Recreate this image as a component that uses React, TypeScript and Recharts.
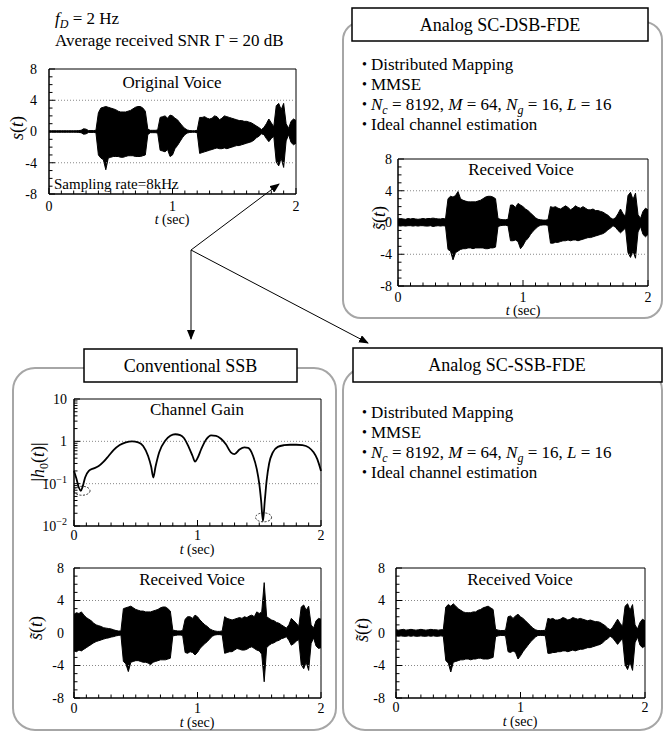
import React from 'react'
import { ComposedChart, Area, Line, XAxis, YAxis, ReferenceLine, ReferenceArea, ReferenceDot } from 'recharts'

const FONT = '"Liberation Serif", "Times New Roman", serif'

// sample times of the voice envelopes (sec)
const T = [
  0, 0.02, 0.04, 0.06, 0.08, 0.1, 0.12, 0.14, 0.16, 0.18,
  0.2, 0.22, 0.24, 0.26, 0.28, 0.3, 0.32, 0.34, 0.36, 0.38,
  0.4, 0.42, 0.44, 0.46, 0.48, 0.5, 0.52, 0.54, 0.56, 0.58,
  0.6, 0.62, 0.64, 0.66, 0.68, 0.7, 0.72, 0.74, 0.76, 0.78,
  0.8, 0.82, 0.84, 0.86, 0.88, 0.9, 0.92, 0.94, 0.96, 0.98,
  1, 1.02, 1.04, 1.06, 1.08, 1.1, 1.12, 1.14, 1.16, 1.18,
  1.2, 1.22, 1.24, 1.26, 1.28, 1.3, 1.32, 1.34, 1.36, 1.38,
  1.4, 1.42, 1.44, 1.46, 1.48, 1.5, 1.52, 1.54, 1.56, 1.58,
  1.6, 1.62, 1.64, 1.66, 1.68, 1.7, 1.72, 1.74, 1.76, 1.78,
  1.8, 1.82, 1.84, 1.86, 1.88, 1.9, 1.92, 1.94, 1.96, 1.98,
  2,
]

// original voice s(t): upper / lower envelope
const ORIG_HI = [
  0.1, 0.1, 0.1, 0.1, 0.1, 0.1, 0.1, 0.1, 0.1, 0.1,
  0.1, 0.1, 0.12, 0.15, 0.35, 0.3, 0.12, 0.12, 0.12, 0.15,
  2.4, 3.0, 3.1, 3.2, 3.1, 3.0, 2.9, 2.8, 2.6, 2.5,
  2.5, 2.5, 2.6, 2.7, 2.9, 3.1, 3.2, 3.2, 3.0, 2.6,
  0.3, 0.15, 0.15, 0.15, 0.2, 1.8, 1.9, 2.0, 1.7, 2.1,
  2.0, 1.7, 1.5, 1.1, 0.7, 0.4, 0.2, 0.12, 0.1, 0.1,
  0.15, 1.8, 1.8, 1.9, 1.7, 1.6, 1.7, 2.0, 1.9, 1.5,
  1.7, 2.0, 1.9, 1.8, 1.7, 1.6, 1.5, 1.4, 1.4, 1.3,
  1.3, 1.2, 1.1, 0.9, 0.7, 0.5, 0.25, 0.5, 1.0, 1.6,
  1.1, 0.6, 3.3, 3.6, 2.8, 3.6, 1.0, 0.4, 1.3, 1.6,
  1.4,
]
const ORIG_LO = [
  -0.1, -0.1, -0.1, -0.1, -0.1, -0.1, -0.1, -0.1, -0.1, -0.1,
  -0.1, -0.1, -0.12, -0.15, -0.35, -0.3, -0.12, -0.12, -0.12, -0.15,
  -3.0, -3.4, -3.6, -4.9, -3.4, -3.3, -3.2, -3.2, -3.2, -3.3,
  -3.3, -3.2, -3.1, -3.1, -3.1, -3.2, -3.2, -3.2, -3.1, -3.0,
  -0.4, -0.15, -0.15, -0.15, -0.2, -2.4, -2.5, -2.6, -2.3, -3.2,
  -3.0, -2.2, -1.8, -1.3, -0.8, -0.4, -0.2, -0.12, -0.1, -0.1,
  -0.15, -2.8, -2.7, -2.6, -2.5, -2.4, -2.3, -2.2, -2.1, -2.2,
  -2.2, -2.1, -2.2, -2.1, -2.0, -1.9, -1.8, -1.8, -1.7, -1.6,
  -1.5, -1.4, -1.3, -1.1, -0.8, -0.6, -0.3, -0.4, -0.9, -1.3,
  -0.9, -0.6, -3.9, -4.4, -3.4, -4.6, -1.2, -0.4, -1.4, -1.7,
  -1.5,
]

// received voice, analog SC-DSB-FDE
const DSB_HI = [
  0.45, 0.5, 0.45, 0.4, 0.5, 0.45, 0.5, 0.45, 0.4, 0.45,
  0.5, 0.45, 0.5, 0.5, 0.55, 0.5, 0.45, 0.45, 0.5, 0.45,
  3.0, 3.3, 3.2, 3.4, 3.9, 3.0, 2.8, 2.7, 2.6, 2.6,
  2.6, 2.6, 2.7, 2.8, 3.0, 3.2, 3.3, 3.3, 3.2, 3.0,
  0.5, 0.4, 0.35, 0.35, 0.4, 2.2, 2.2, 1.9, 2.4, 2.2,
  2.0, 1.7, 1.5, 1.2, 0.9, 0.6, 0.4, 0.35, 0.3, 0.3,
  0.35, 2.0, 1.9, 2.0, 1.8, 1.7, 1.9, 2.1, 1.9, 1.6,
  1.8, 2.1, 1.9, 1.8, 2.0, 1.8, 1.6, 1.6, 1.7, 1.5,
  1.5, 1.4, 1.3, 1.1, 0.9, 0.6, 0.4, 0.6, 1.1, 1.7,
  1.1, 0.8, 3.4, 3.8, 2.9, 3.7, 1.0, 0.5, 1.4, 1.8,
  1.6,
]
const DSB_LO = [
  -0.4, -0.45, -0.4, -0.45, -0.4, -0.4, -0.45, -0.4, -0.45, -0.4,
  -0.4, -0.45, -0.45, -0.4, -0.5, -0.45, -0.4, -0.45, -0.4, -0.45,
  -3.4, -3.6, -4.7, -3.8, -3.6, -3.4, -3.3, -3.3, -3.2, -3.2,
  -3.3, -3.2, -3.2, -3.2, -3.2, -3.3, -3.3, -3.2, -3.2, -3.1,
  -0.5, -0.4, -0.35, -0.35, -0.4, -2.3, -2.3, -2.2, -2.4, -3.3,
  -2.9, -2.3, -2.0, -1.5, -1.1, -0.8, -0.5, -0.35, -0.3, -0.3,
  -0.35, -2.6, -2.6, -2.5, -2.5, -2.4, -2.3, -2.3, -2.2, -2.3,
  -2.2, -2.2, -2.3, -2.2, -2.1, -2.0, -1.9, -1.9, -1.8, -1.7,
  -1.6, -1.5, -1.4, -1.2, -0.9, -0.7, -0.4, -0.6, -1.0, -1.3,
  -1.0, -0.7, -3.8, -4.4, -3.6, -4.5, -1.2, -0.5, -1.5, -1.8,
  -1.5,
]

// received voice, conventional SSB
const SSB_HI = [
  2.3, 2.5, 2.4, 2.6, 2.2, 1.9, 1.7, 1.5, 1.2, 1.0,
  0.9, 0.8, 0.65, 0.6, 0.55, 0.5, 0.4, 0.3, 0.25, 0.25,
  3.0, 3.1, 3.2, 3.3, 3.1, 2.9, 2.8, 2.7, 2.7, 2.6,
  2.6, 2.6, 2.7, 2.8, 2.9, 3.1, 3.2, 3.2, 3.0, 2.7,
  0.35, 0.3, 0.25, 0.25, 0.3, 1.7, 2.0, 2.0, 1.8, 2.2,
  2.0, 1.6, 1.3, 1.0, 0.8, 0.5, 0.35, 0.25, 0.2, 0.2,
  0.25, 2.0, 1.8, 1.7, 1.6, 1.7, 1.8, 1.9, 1.8, 2.0,
  1.9, 2.1, 2.2, 2.0, 2.6, 2.4, 2.6, 6.2, 2.0, 1.8,
  1.6, 1.5, 1.3, 1.2, 1.0, 0.8, 0.6, 1.0, 1.8, 1.5,
  1.2, 0.8, 3.2, 3.45, 2.8, 3.3, 1.0, 0.6, 1.5, 1.8,
  1.7,
]
const SSB_LO = [
  -2.2, -2.3, -2.1, -2.2, -2.0, -1.8, -1.6, -1.4, -1.2, -1.05,
  -0.95, -0.85, -0.75, -0.65, -0.6, -0.5, -0.45, -0.35, -0.3, -0.25,
  -3.5, -3.8, -4.75, -3.6, -3.5, -3.4, -3.4, -3.5, -3.6, -3.6,
  -3.7, -3.9, -3.6, -3.5, -3.4, -3.3, -3.3, -3.3, -3.2, -3.1,
  -0.35, -0.3, -0.25, -0.25, -0.3, -2.4, -2.5, -2.3, -2.4, -2.7,
  -2.4, -1.9, -1.6, -1.3, -1.05, -0.7, -0.4, -0.25, -0.2, -0.2,
  -0.25, -2.5, -2.4, -2.3, -2.3, -2.1, -1.9, -2.0, -2.1, -2.1,
  -2.0, -1.8, -1.7, -1.9, -2.1, -2.2, -2.6, -6.0, -1.8, -1.5,
  -1.3, -1.2, -1.0, -0.9, -0.7, -0.6, -0.45, -0.9, -1.5, -1.3,
  -1.0, -0.8, -3.9, -4.4, -3.6, -4.6, -1.3, -0.6, -1.6, -1.9,
  -1.8,
]

// received voice, analog SC-SSB-FDE
const SCSSB_HI = [
  0.4, 0.35, 0.4, 0.45, 0.35, 0.4, 0.45, 0.4, 0.35, 0.4,
  0.45, 0.4, 0.35, 0.4, 0.45, 0.4, 0.4, 0.35, 0.4, 0.4,
  3.2, 3.5, 3.3, 3.6, 3.3, 3.0, 2.8, 2.6, 2.5, 2.5,
  2.5, 2.6, 2.6, 2.8, 2.9, 3.1, 3.2, 3.3, 3.1, 2.9,
  0.45, 0.35, 0.3, 0.3, 0.35, 2.0, 2.1, 1.8, 2.1, 2.3,
  2.0, 1.8, 1.5, 1.2, 0.9, 0.6, 0.4, 0.3, 0.3, 0.3,
  0.35, 1.8, 1.7, 1.8, 1.6, 1.6, 1.7, 1.9, 1.8, 1.6,
  1.7, 1.9, 1.8, 1.7, 1.8, 1.7, 1.6, 1.5, 1.6, 1.5,
  1.4, 1.4, 1.3, 1.1, 0.9, 0.6, 0.4, 0.7, 1.2, 1.7,
  1.2, 0.8, 3.3, 3.6, 2.8, 3.5, 1.0, 0.5, 1.3, 1.7,
  1.5,
]
const SCSSB_LO = [
  -0.35, -0.4, -0.35, -0.4, -0.4, -0.35, -0.4, -0.35, -0.4, -0.4,
  -0.35, -0.4, -0.4, -0.35, -0.4, -0.35, -0.4, -0.4, -0.35, -0.4,
  -3.4, -3.7, -4.8, -3.6, -3.5, -3.4, -3.3, -3.3, -3.2, -3.2,
  -3.3, -3.2, -3.2, -3.1, -3.1, -3.2, -3.2, -3.2, -3.1, -3.0,
  -0.45, -0.35, -0.3, -0.3, -0.35, -2.3, -2.4, -2.2, -2.4, -3.2,
  -2.8, -2.3, -1.9, -1.5, -1.1, -0.8, -0.5, -0.3, -0.3, -0.3,
  -0.35, -2.5, -2.5, -2.4, -2.4, -2.3, -2.3, -2.2, -2.2, -2.3,
  -2.2, -2.1, -2.2, -2.1, -2.0, -2.0, -1.9, -1.8, -1.8, -1.7,
  -1.6, -1.5, -1.4, -1.2, -0.9, -0.7, -0.4, -0.6, -1.0, -1.4,
  -1.0, -0.7, -3.9, -4.5, -3.6, -4.6, -1.2, -0.5, -1.5, -1.8,
  -1.6,
]

// channel gain |h0(t)|
const GAIN_T = [
  0, 0.02, 0.04, 0.055, 0.07, 0.09, 0.12, 0.16, 0.2, 0.24,
  0.28, 0.32, 0.37, 0.42, 0.47, 0.52, 0.56, 0.6, 0.625, 0.642,
  0.66, 0.69, 0.74, 0.78, 0.82, 0.86, 0.89, 0.93, 0.96, 0.98,
  1.0, 1.03, 1.07, 1.11, 1.15, 1.19, 1.23, 1.27, 1.3, 1.34,
  1.38, 1.41, 1.45, 1.48, 1.5, 1.515, 1.53, 1.545, 1.56, 1.58,
  1.61, 1.65, 1.7, 1.75, 1.8, 1.85, 1.9, 1.94, 1.97, 2.0,
]
const GAIN = [
  0.2, 0.13, 0.08, 0.068, 0.085, 0.14, 0.2, 0.23, 0.26, 0.33,
  0.45, 0.62, 0.82, 0.95, 1.0, 0.95, 0.78, 0.45, 0.25, 0.14,
  0.25, 0.55, 1.05, 1.35, 1.47, 1.4, 1.2, 0.72, 0.45, 0.33,
  0.4, 0.65, 1.1, 1.38, 1.35, 1.15, 0.85, 0.55, 0.5, 0.64,
  0.72, 0.7, 0.45, 0.22, 0.1, 0.04, 0.013, 0.04, 0.12, 0.3,
  0.55, 0.74, 0.81, 0.83, 0.83, 0.81, 0.72, 0.55, 0.38, 0.2,
]
// deep fades circled in the channel gain plot
const FADE_T = [0.065, 1.535]
const FADE_G = [0.068, 0.016]

const X_TICKS = [0, 0.1, 0.2, 0.3, 0.4, 0.5, 0.6, 0.7, 0.8, 0.9, 1, 1.1, 1.2, 1.3, 1.4, 1.5, 1.6, 1.7, 1.8, 1.9, 2]
const VOICE_Y_TICKS = [-8, -7, -6, -5, -4, -3, -2, -1, 0, 1, 2, 3, 4, 5, 6, 7, 8]
const VOICE_Y_LABELS = [-8, -4, 0, 4, 8]
const GAIN_Y_TICKS = [
  0.01, 0.02, 0.03, 0.04, 0.05, 0.06, 0.07, 0.08, 0.09,
  0.1, 0.2, 0.3, 0.4, 0.5, 0.6, 0.7, 0.8, 0.9,
  1, 2, 3, 4, 5, 6, 7, 8, 9, 10,
]
const GAIN_Y_LABELS = [0.01, 0.1, 1, 10]

// padding round each plot area inside its chart
const PL = 34
const PT = 12
const PR = 6
const PB = 24

type Plot = { x: number; y: number; w: number; h: number }

const xTick = (dy: number) => (props: any) => {
  const { x, y, payload } = props
  const v = payload.value
  const major = Number.isInteger(v)
  return (
    <g>
      <line x1={x} x2={x} y1={y} y2={y - (major ? 6 : 3.5)} stroke="#000" />
      {major && (
        <text x={x} y={y + dy} textAnchor="middle" fontSize={14} fontFamily={FONT} fill="#000">
          {v}
        </text>
      )}
    </g>
  )
}

const yTick = (labels: number[], gap: number, fmt: (v: number) => React.ReactNode) => (props: any) => {
  const { x, y, payload } = props
  const v = payload.value
  const major = labels.includes(v)
  return (
    <g>
      <line x1={x} x2={x + (major ? 6 : 3.5)} y1={y} y2={y} stroke="#000" />
      {major && (
        <text x={x - gap} y={y} dy="0.35em" textAnchor="end" fontSize={14} fontFamily={FONT} fill="#000">
          {fmt(v)}
        </text>
      )}
    </g>
  )
}

const fmtLog = (v: number) => {
  if (v === 0.1) return <><tspan>10</tspan><tspan dy={-6} fontSize={10}>−1</tspan></>
  if (v === 0.01) return <><tspan>10</tspan><tspan dy={-6} fontSize={10}>−2</tspan></>
  return String(v)
}

function VoicePlot({ p, hi, lo, gap, dy }: { p: Plot; hi: number[]; lo: number[]; gap: number; dy: number }) {
  const data = T.map((t, i) => ({ t, range: [lo[i], hi[i]] }))
  return (
    <div style={{ position: 'absolute', left: p.x - PL, top: p.y - PT }}>
      <ComposedChart
        width={p.w + PL + PR}
        height={p.h + PT + PB}
        data={data}
        margin={{ top: PT, right: PR, bottom: 0, left: 0 }}
      >
        <XAxis
          dataKey="t"
          type="number"
          domain={[0, 2]}
          ticks={X_TICKS}
          interval={0}
          height={PB}
          tickSize={0}
          tickMargin={0}
          tickLine={false}
          axisLine={{ stroke: '#000' }}
          tick={xTick(dy)}
        />
        <YAxis
          type="number"
          domain={[-8, 8]}
          ticks={VOICE_Y_TICKS}
          interval={0}
          width={PL}
          tickSize={0}
          tickMargin={0}
          tickLine={false}
          axisLine={{ stroke: '#000' }}
          tick={yTick(VOICE_Y_LABELS, gap, (v) => String(v))}
        />
        <ReferenceLine y={4} stroke="#888" strokeDasharray="1 2" />
        <ReferenceLine y={-4} stroke="#888" strokeDasharray="1 2" />
        <Area
          dataKey="range"
          type="linear"
          stroke="#000"
          strokeWidth={1}
          fill="#000"
          fillOpacity={1}
          dot={false}
          activeDot={false}
          isAnimationActive={false}
        />
        <ReferenceArea x1={0} x2={2} y1={-8} y2={8} fill="none" stroke="#000" ifOverflow="visible" />
      </ComposedChart>
    </div>
  )
}

function GainPlot({ p, gap, dy }: { p: Plot; gap: number; dy: number }) {
  const data = GAIN_T.map((t, i) => ({ t, g: GAIN[i] }))
  return (
    <div style={{ position: 'absolute', left: p.x - PL, top: p.y - PT }}>
      <ComposedChart
        width={p.w + PL + PR}
        height={p.h + PT + PB}
        data={data}
        margin={{ top: PT, right: PR, bottom: 0, left: 0 }}
      >
        <XAxis
          dataKey="t"
          type="number"
          domain={[0, 2]}
          ticks={X_TICKS}
          interval={0}
          height={PB}
          tickSize={0}
          tickMargin={0}
          tickLine={false}
          axisLine={{ stroke: '#000' }}
          tick={xTick(dy)}
        />
        <YAxis
          type="number"
          scale="log"
          domain={[0.01, 10]}
          allowDataOverflow
          ticks={GAIN_Y_TICKS}
          interval={0}
          width={PL}
          tickSize={0}
          tickMargin={0}
          tickLine={false}
          axisLine={{ stroke: '#000' }}
          tick={yTick(GAIN_Y_LABELS, gap, fmtLog)}
        />
        <ReferenceLine y={1} stroke="#888" strokeDasharray="1 2" />
        <ReferenceLine y={0.1} stroke="#888" strokeDasharray="1 2" />
        <Line dataKey="g" type="monotone" stroke="#000" strokeWidth={1.8} dot={false} isAnimationActive={false} />
        {FADE_T.map((t, i) => (
          <ReferenceDot
            key={i}
            x={t}
            y={FADE_G[i]}
            r={1}
            ifOverflow="visible"
            shape={(s: any) => (
              <ellipse cx={s.cx} cy={s.cy} rx={8} ry={4.5} fill="none" stroke="#000" strokeWidth={0.8} strokeDasharray="2 1.5" />
            )}
          />
        ))}
        <ReferenceArea x1={0} x2={2} y1={0.01} y2={10} fill="none" stroke="#000" ifOverflow="visible" />
      </ComposedChart>
    </div>
  )
}

const Sec = ({ x, y }: { x: number; y: number }) => (
  <text x={x} y={y} textAnchor="middle" fontSize={14}>
    <tspan fontStyle="italic">t</tspan> (sec)
  </text>
)

const SLabel = ({ x, y, tilde }: { x: number; y: number; tilde?: boolean }) => (
  <text transform={`translate(${x},${y}) rotate(-90)`} textAnchor="middle" dy="0.35em" fontSize={18}>
    <tspan fontStyle="italic">{tilde ? 's\u0303' : 's'}</tspan>(<tspan fontStyle="italic">t</tspan>)
  </text>
)

const BULLET_LINES = [0, 20, 40, 60]

const Bullets = ({ x, y }: { x: number; y: number }) => (
  <g fontSize={17}>
    {BULLET_LINES.map((d) => (
      <text key={d} x={x} y={y + d - 1} fontSize={14}>•</text>
    ))}
    <text x={x + 9} y={y}>Distributed Mapping</text>
    <text x={x + 9} y={y + 20}>MMSE</text>
    <text x={x + 9} y={y + 40}>
      <tspan fontStyle="italic">N</tspan>
      <tspan fontStyle="italic" fontSize={12} dy={4}>c</tspan>
      <tspan dy={-4}> = 8192, </tspan>
      <tspan fontStyle="italic">M</tspan>
      <tspan> = 64, </tspan>
      <tspan fontStyle="italic">N</tspan>
      <tspan fontStyle="italic" fontSize={12} dy={4}>g</tspan>
      <tspan dy={-4}> = 16, </tspan>
      <tspan fontStyle="italic">L</tspan>
      <tspan> = 16</tspan>
    </text>
    <text x={x + 9} y={y + 60}>Ideal channel estimation</text>
  </g>
)

const ORIG: Plot = { x: 49, y: 69, w: 247, h: 125 }
const DSB: Plot = { x: 398, y: 159, w: 250, h: 127 }
const GAINP: Plot = { x: 74, y: 399, w: 247, h: 127 }
const SSB: Plot = { x: 74, y: 568, w: 247, h: 130 }
const SCSSB: Plot = { x: 396, y: 568, w: 249, h: 130 }

export default function App() {
  const J = { x: 191, y: 250 }
  return (
    <div
      style={{
        position: 'absolute',
        left: 0,
        top: 0,
        width: 664,
        height: 732,
        background: '#fff',
        fontFamily: FONT,
        overflow: 'hidden',
      }}
    >
      <VoicePlot p={ORIG} hi={ORIG_HI} lo={ORIG_LO} gap={12} dy={17} />
      <VoicePlot p={DSB} hi={DSB_HI} lo={DSB_LO} gap={6} dy={16} />
      <GainPlot p={GAINP} gap={7} dy={14} />
      <VoicePlot p={SSB} hi={SSB_HI} lo={SSB_LO} gap={10} dy={15} />
      <VoicePlot p={SCSSB} hi={SCSSB_HI} lo={SCSSB_LO} gap={11} dy={14} />

      <svg
        width={664}
        height={732}
        style={{ position: 'absolute', left: 0, top: 0, pointerEvents: 'none' }}
        fontFamily={FONT}
        fill="#000"
      >
        <defs>
          <marker id="ah" markerWidth="10" markerHeight="8" refX="9" refY="4" orient="auto" markerUnits="userSpaceOnUse">
            <path d="M0,0 L10,4 L0,8 Z" fill="#000" />
          </marker>
        </defs>

        {/* grey group frames */}
        <rect x={343} y={22} width={319} height={296} rx={18} fill="none" stroke="#a6a6a6" strokeWidth={2} />
        <rect x={13} y={368} width={323} height={362} rx={22} fill="none" stroke="#a6a6a6" strokeWidth={2} />
        <rect x={343} y={368} width={319} height={362} rx={22} fill="none" stroke="#a6a6a6" strokeWidth={2} />

        {/* title boxes */}
        <rect x={352} y={8} width={296} height={33} fill="#fff" stroke="#000" strokeWidth={1.5} />
        <text x={500} y={31} textAnchor="middle" fontSize={18}>Analog SC-DSB-FDE</text>
        <rect x={84} y={349} width={213} height={33} fill="#fff" stroke="#000" strokeWidth={1.5} />
        <text x={190.5} y={372} textAnchor="middle" fontSize={18}>Conventional SSB</text>
        <rect x={353} y={348} width={309} height={34} fill="#fff" stroke="#000" strokeWidth={1.5} />
        <text x={507} y={371} textAnchor="middle" fontSize={18}>Analog SC-SSB-FDE</text>

        {/* arrows */}
        <line x1={J.x} y1={J.y} x2={279} y2={184} stroke="#000" markerEnd="url(#ah)" />
        <line x1={J.x} y1={J.y} x2={J.x} y2={339} stroke="#000" markerEnd="url(#ah)" />
        <line x1={J.x} y1={J.y} x2={368} y2={343} stroke="#000" markerEnd="url(#ah)" />

        {/* condition text */}
        <text x={55} y={24} fontSize={17}>
          <tspan fontStyle="italic">f</tspan>
          <tspan fontStyle="italic" fontSize={12} dy={4}>D</tspan>
          <tspan dy={-4}> = 2 Hz</tspan>
        </text>
        <text x={55} y={46} fontSize={17}>Average received SNR Γ = 20 dB</text>

        <Bullets x={362} y={70} />
        <Bullets x={362} y={418} />

        {/* plot titles */}
        <text x={172} y={88} textAnchor="middle" fontSize={17}>Original Voice</text>
        <text x={54} y={189} fontSize={15}>Sampling rate=8kHz</text>
        <text x={521} y={175} textAnchor="middle" fontSize={17}>Received Voice</text>
        <text x={197} y={415} textAnchor="middle" fontSize={17}>Channel Gain</text>
        <text x={192} y={585} textAnchor="middle" fontSize={17}>Received Voice</text>
        <text x={520} y={585} textAnchor="middle" fontSize={17}>Received Voice</text>

        {/* axis titles */}
        <SLabel x={17} y={128} />
        <SLabel x={379} y={218} tilde />
        <SLabel x={36} y={628} tilde />
        <SLabel x={362} y={630} tilde />
        <text transform="translate(38,462) rotate(-90)" textAnchor="middle" dy="0.35em" fontSize={18}>
          |<tspan fontStyle="italic">h</tspan>
          <tspan fontSize={12} dy={4}>0</tspan>
          <tspan dy={-4}>(</tspan>
          <tspan fontStyle="italic">t</tspan>)|
        </text>
        <Sec x={172} y={224} />
        <Sec x={523} y={315} />
        <Sec x={197} y={554} />
        <Sec x={197} y={727} />
        <Sec x={520} y={726} />
      </svg>
    </div>
  )
}
